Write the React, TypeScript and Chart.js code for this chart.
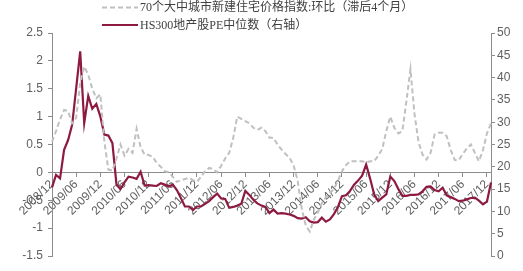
import React, { useEffect, useRef } from "react";
import { Chart, registerables } from "chart.js";

Chart.register(...registerables);

const startYear = 2008;
const startMonth = 12;
const monthCount = 110;

const seriesIndexName = "70个大中城市新建住宅价格指数:环比（滞后4个月）";
const seriesPEName = "HS300地产股PE中位数（右轴）";

const priceIndexMoM: number[] = [
  0.55, 0.74, 0.95, 1.12, 1.1, 0.88, 0.98, 1.6, 1.9, 1.75,
  1.5, 1.33, 1.4, 0.55, 0.05, 0.03, 0.25, 0.5, 0.3, 0.42,
  0.35, 0.78, 0.45, 0.32, 0.31, 0.28, 0.17, 0.1, 0.02, 0.0,
  -0.08, -0.17, -0.14, -0.12, -0.1, -0.14, -0.17, -0.08, 0.02, 0.08,
  0.06, 0.0, 0.12, 0.25, 0.35, 0.62, 1.0, 0.96, 0.92, 0.88,
  0.8, 0.76, 0.8, 0.74, 0.62, 0.62, 0.5, 0.41, 0.33, 0.26,
  0.12, -0.15, -0.65, -0.95, -1.06, -0.85, -0.72, -0.55, -0.45, -0.37,
  -0.3, -0.15, 0.02, 0.13, 0.2, 0.2, 0.2, 0.2, 0.18, 0.2,
  0.2, 0.3, 0.42, 0.74, 1.0, 0.8, 0.7, 0.74, 1.28, 1.85,
  1.05, 0.55, 0.32, 0.23, 0.35, 0.68, 0.71, 0.71, 0.65, 0.4,
  0.22, 0.22, 0.33, 0.43, 0.5, 0.35, 0.2, 0.4, 0.7, 0.88,
];

const peMedian: number[] = [
  15.4, 18.2, 17.4, 23.8, 26.0, 29.4, 37.6, 45.9, 29.8, 35.9,
  33.0, 34.1, 31.3, 27.2, 27.0, 25.3, 16.1, 15.0, 16.5, 17.8,
  17.6, 17.3, 18.9, 15.8, 15.9, 15.8, 15.7, 16.3, 16.0, 15.6,
  16.0, 14.8, 13.0, 11.1, 11.1, 10.3, 11.1, 11.1, 11.7, 12.3,
  13.2, 14.0, 12.9, 12.8, 10.8, 11.0, 11.3, 11.7, 14.6, 13.7,
  12.6, 11.8, 11.3, 11.0, 9.6, 10.4, 9.5, 9.6, 9.5, 9.3,
  9.0, 8.5, 8.4, 8.7, 7.8, 7.5, 7.6, 8.6, 7.7, 8.2,
  9.4, 11.0, 13.4, 13.6, 14.6, 16.0, 16.9, 18.0, 20.5, 17.3,
  13.8, 12.3, 13.1, 13.8, 17.8, 16.8, 15.0, 13.5, 13.5, 13.7,
  13.7, 13.8, 14.5, 15.5, 15.6, 14.8, 14.5, 15.3, 13.6, 13.2,
  12.8, 12.3, 12.4, 12.7, 13.0, 13.1, 12.4, 11.6, 12.2, 16.5,
];

const monthLabels: string[] = [];
for (let i = 0; i < monthCount; i++) {
  const m0 = startMonth - 1 + i;
  const y = startYear + Math.floor(m0 / 12);
  const m = (m0 % 12) + 1;
  monthLabels.push(`${y}/${m < 10 ? "0" + m : m}`);
}

const AXIS_COLOR = "#8c8c8c";
const TICK_COLOR = "#5f5f5f";
const GRAY = "#c0c0c0";
const RED = "#8e1a40";

const fmt = (v: any) => `${+Number(v).toFixed(2)}`;

export default function App() {
  const canvasRef = useRef<HTMLCanvasElement | null>(null);

  useEffect(() => {
    const canvas = canvasRef.current;
    if (!canvas) return;
    const tickFont = { family: "'Liberation Sans', Arial, sans-serif", size: 12 };
    const chart = new Chart(canvas, {
      type: "line",
      data: {
        labels: monthLabels,
        datasets: [
          {
            label: seriesIndexName,
            data: priceIndexMoM,
            yAxisID: "y",
            borderColor: GRAY,
            borderWidth: 2,
            borderDash: [5, 3],
            pointRadius: 0,
            tension: 0,
            fill: false,
          },
          {
            label: seriesPEName,
            data: peMedian,
            yAxisID: "y1",
            borderColor: RED,
            borderWidth: 2.2,
            pointRadius: 0,
            tension: 0,
            fill: false,
          },
        ],
      },
      options: {
        responsive: false,
        animation: false,
        layout: { padding: { top: 33, bottom: 15, left: 0, right: 0 } },
        plugins: {
          legend: { display: false },
          tooltip: { enabled: false },
        },
        scales: {
          x: {
            type: "category",
            position: { y: 0 } as any,
            offset: false,
            grid: {
              drawOnChartArea: false,
              drawTicks: true,
              tickLength: 4,
              color: AXIS_COLOR,
            },
            border: { display: true, color: AXIS_COLOR, width: 1 },
            ticks: {
              autoSkip: false,
              maxRotation: 45,
              minRotation: 45,
              padding: 1,
              color: TICK_COLOR,
              font: tickFont,
              callback: (value: any, index: number) => {
                const lab = monthLabels[index];
                if (!lab) return null;
                const mm = lab.slice(5);
                return mm === "06" || mm === "12" ? lab : null;
              },
            },
            afterFit: (s: any) => {
              s.height = 0;
            },
          },
          y: {
            position: "left",
            min: -1.5,
            max: 2.5,
            grid: {
              drawOnChartArea: false,
              drawTicks: true,
              tickLength: 4,
              color: AXIS_COLOR,
            },
            border: { display: true, color: AXIS_COLOR, width: 1 },
            ticks: {
              stepSize: 0.5,
              padding: 5,
              color: TICK_COLOR,
              font: tickFont,
              callback: (v: any) => fmt(v),
            },
            afterFit: (s: any) => {
              s.width = 52;
            },
          },
          y1: {
            position: "right",
            min: 0,
            max: 50,
            grid: {
              drawOnChartArea: false,
              drawTicks: true,
              tickLength: 4,
              color: AXIS_COLOR,
            },
            border: { display: true, color: AXIS_COLOR, width: 1 },
            ticks: {
              stepSize: 5,
              padding: 2,
              color: TICK_COLOR,
              font: tickFont,
              callback: (v: any) => fmt(v),
            },
            afterFit: (s: any) => {
              s.width = 32;
            },
          },
        },
      },
    });
    return () => chart.destroy();
  }, []);

  const legendText: React.CSSProperties = {
    position: "absolute",
    left: 140,
    fontFamily: "'Liberation Serif', 'Noto Sans CJK SC', serif",
    fontSize: 12,
    lineHeight: "14px",
    color: "#404040",
    whiteSpace: "nowrap",
  };

  return (
    <div style={{ position: "absolute", left: 0, top: 0, width: 523, height: 271, background: "#fff" }}>
      <canvas ref={canvasRef} width={523} height={271} style={{ position: "absolute", left: 0, top: 0 }} />
      <svg width={523} height={34} style={{ position: "absolute", left: 0, top: 0, pointerEvents: "none" }}>
        <line x1={102} y1={7.5} x2={138} y2={7.5} stroke={GRAY} strokeWidth={2} strokeDasharray="5,3" />
        <line x1={102} y1={25} x2={138} y2={25} stroke={RED} strokeWidth={2.2} />
      </svg>
      <div style={{ ...legendText, top: 0 }}>{seriesIndexName}</div>
      <div style={{ ...legendText, top: 18 }}>{seriesPEName}</div>
    </div>
  );
}
